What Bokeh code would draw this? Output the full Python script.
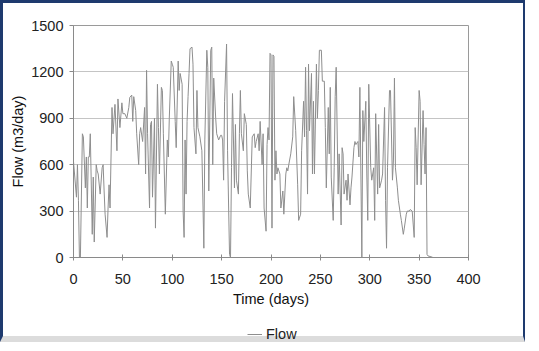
from bokeh.plotting import figure
from bokeh.layouts import column
from bokeh.models import Range1d, Legend, LegendItem, FixedTicker
from bokeh.embed import file_html
from bokeh.resources import INLINE

# Daily flow record (day, m3/day)
days = [0, 3, 4, 5, 6, 7, 9, 10, 12, 13, 14, 15, 16, 17, 19, 20, 21, 23, 24, 25,
        27, 29, 30, 31, 32, 34, 35, 36, 37, 39, 40, 42, 44, 45, 47, 49, 50,
        52, 54, 56, 57, 59, 60, 61, 63, 64, 66, 67, 68, 70, 72, 73, 74, 75, 77,
        78, 79, 80, 82, 83, 85, 86, 87, 89, 90, 91, 93, 95, 96, 97, 99, 100,
        101, 103, 104, 106, 107, 108, 110, 111, 112, 113, 114, 115, 116, 117, 118,
        120, 121, 122, 124, 125, 126, 128, 130, 132, 133, 135, 136, 137, 139, 140,
        141, 142, 144, 145, 147, 149, 150,
        151, 152, 153, 155, 156, 158, 159, 160, 161, 163, 164, 165, 167, 168, 169,
        170, 172, 173, 175, 176, 177, 179, 181, 183, 184, 185, 187, 188, 189, 191,
        192, 193, 195, 196, 197, 198, 199,
        200, 201, 202, 203, 204, 205, 206, 207, 209, 210, 212, 213, 215, 216, 217,
        218, 220, 222, 223, 225, 227, 228, 230, 231, 233, 234, 235, 236, 237, 238,
        239, 241, 242, 243, 244, 246, 247, 248, 249, 251, 252, 254,
        255, 256, 258, 259, 260, 261, 263, 264, 265, 266, 268, 269, 271, 272, 273,
        274, 276, 277, 278, 280, 281, 282, 284, 285, 286, 288, 289, 290, 292, 293,
        294, 296, 297, 298, 299,
        301, 302, 304, 305, 306, 308, 309, 310, 312, 313, 315, 316, 317, 318, 320,
        321, 323, 324, 325, 326, 328, 329, 331, 332, 334, 335, 337, 338, 340, 341,
        343, 345, 346, 347, 348, 350, 351, 352, 354, 355, 356, 357, 358, 359, 362,
        364]

flow = [620, 390, 600, 370, 0, 0, 800, 780, 450, 650, 320, 650, 650, 800, 150, 520, 100, 600, 560, 540,
        410, 580, 600, 430, 280, 130, 320, 470, 320, 970, 800, 990, 690, 1025, 840, 1000, 930,
        930, 900, 970, 1035, 1050, 880, 1040, 950, 800, 600, 800, 840, 750, 970, 540, 1210, 800, 320,
        860, 880, 390, 900, 190, 1120, 840, 540, 1100, 1080, 800, 280, 760, 650, 900, 1270, 1250,
        1230, 880, 710, 1270, 1080, 1190, 1120, 300, 130, 760, 410, 880, 1040, 1190, 1350,
        1360, 1250, 840, 670, 1080, 840, 780, 690, 60, 760, 1340, 1230, 430, 1340, 1360,
        600, 1160, 900, 800, 760, 790, 790,
        760, 500, 1010, 1380, 690, 20, 0, 580, 1060, 450, 860, 500, 410, 800, 1080,
        800, 690, 930, 860, 560, 410, 320, 780, 800, 710, 750, 800, 690, 880, 600,
        800, 320, 170, 730, 840, 760, 1320,
        1310, 190, 1310, 1300, 500, 690, 540, 580, 540, 320, 430, 280, 540, 580, 560,
        600, 670, 780, 1040, 820, 470, 240, 280, 690, 1010, 780, 1230, 820, 410, 1250,
        820, 1190, 540, 1010, 540, 1250, 900, 1080, 1340, 1340, 1140, 1140,
        840, 450, 970, 670, 1100, 520, 240, 580, 1040, 1230, 410, 670, 210, 710, 670,
        410, 500, 370, 540, 340, 450, 520, 710, 750, 730, 750, 650, 1100, 0, 950,
        750, 1010, 540, 240, 1120,
        580, 500, 580, 240, 930, 410, 860, 450, 500, 540, 970, 370, 60, 580, 1080,
        1080, 500, 630, 1160, 580, 450, 370, 280, 240, 150, 190, 280, 300, 300, 310,
        300, 130, 840, 710, 470, 1080, 1010, 470, 950, 730, 540, 840, 20, 10, 5,
        0]

x_ticks = [0, 50, 100, 150, 200, 250, 300, 350, 400]
y_ticks = [0, 300, 600, 900, 1200, 1500]

FONT = "Liberation Sans"
FRAME_BLUE = "#1e3a6e"
LINE_GRAY = "#8e8e8e"

# main chart
p = figure(width=525, height=312, output_backend="svg", toolbar_location=None,
           x_range=Range1d(0, 400), y_range=Range1d(0, 1500),
           min_border_left=70, min_border_right=60, min_border_top=22, min_border_bottom=58,
           background_fill_color="white", border_fill_color="white")
p.styles = {"border-top": f"3px solid {FRAME_BLUE}",
            "border-left": f"3px solid {FRAME_BLUE}",
            "border-right": f"2px solid {FRAME_BLUE}"}

p.outline_line_color = "#9a9a9a"
p.outline_line_width = 1

p.line(days, flow, line_color=LINE_GRAY, line_width=1)

p.xgrid.visible = False
p.ygrid.ticker = FixedTicker(ticks=y_ticks)
p.ygrid.grid_line_color = "#c4c4c4"
p.ygrid.grid_line_width = 1

p.xaxis.ticker = FixedTicker(ticks=x_ticks)
p.yaxis.ticker = FixedTicker(ticks=y_ticks)
p.xaxis.axis_label = "Time (days)"
p.yaxis.axis_label = "Flow (m3/day)"
for ax in (p.xaxis[0], p.yaxis[0]):
    ax.axis_line_color = "#8a8a8a"
    ax.major_tick_line_color = "#8a8a8a"
    ax.minor_tick_line_color = None
    ax.major_label_text_font = FONT
    ax.major_label_text_font_size = "14.5px"
    ax.major_label_text_color = "#222222"
    ax.axis_label_text_font = FONT
    ax.axis_label_text_font_size = "14.5px"
    ax.axis_label_text_font_style = "normal"
    ax.axis_label_text_color = "#111111"
p.xaxis.major_tick_in = 3
p.xaxis.major_tick_out = 3
p.xaxis.major_label_standoff = 13
p.xaxis.axis_label_standoff = 4
p.yaxis.major_tick_in = 0
p.yaxis.major_tick_out = 4
p.yaxis.major_label_standoff = 6
p.yaxis.axis_label_standoff = 2

# legend strip under the chart; its line sits outside the strip's view
leg = figure(width=525, height=30, output_backend="svg", toolbar_location=None,
             x_range=Range1d(1000, 1001), y_range=Range1d(0, 1500),
             x_axis_location=None, y_axis_location=None,
             min_border=0, outline_line_color=None,
             background_fill_color="white", border_fill_color="white")
leg.grid.visible = False
leg.styles = {"border-left": f"3px solid {FRAME_BLUE}",
              "border-right": f"2px solid {FRAME_BLUE}",
              "border-bottom": "6px solid #dcdcdc"}
flow_line = leg.line(days, flow, line_color=LINE_GRAY, line_width=1)

legend = Legend(items=[LegendItem(label="Flow", renderers=[flow_line])],
                location=(174, 0), orientation="horizontal",
                border_line_color=None, background_fill_alpha=0,
                padding=0, margin=0, glyph_width=15, glyph_height=16,
                label_height=16, label_standoff=4, label_text_font=FONT,
                label_text_font_size="14.5px", label_text_color="#222222")
leg.add_layout(legend, "center")

layout = column(p, leg, spacing=0)

open("out.html", "w").write(file_html(layout, INLINE))
